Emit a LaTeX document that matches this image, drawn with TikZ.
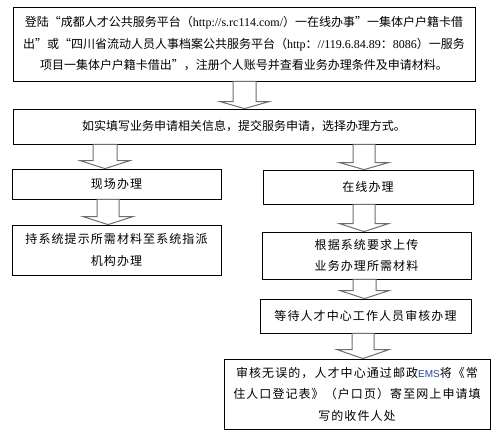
\documentclass[tikz,border=0pt]{standalone}
\usepackage{fontspec}
\setmainfont{Noto Sans CJK SC}
\newfontfamily\cjkwide[LetterSpace=9]{Noto Sans CJK SC}
\newfontfamily\lat{Liberation Serif}
\newfontfamily\ems{Liberation Sans}
\usetikzlibrary{calc}
\definecolor{arrgray}{RGB}{110,110,110}
\definecolor{emsblue}{RGB}{40,70,150}
\newcommand{\blockarrow}[6]{%
  \draw[blockarr] let \p1=(#2.south), \p2=(#3.north) in
    (#1pt-#4pt,\y1) -- (#1pt-#4pt,\y2+#6pt) -- (#1pt-#5pt,\y2+#6pt) -- (#1pt,\y2)
    -- (#1pt+#5pt,\y2+#6pt) -- (#1pt+#4pt,\y2+#6pt) -- (#1pt+#4pt,\y1) -- cycle;}
\begin{document}
\begin{tikzpicture}[x=1pt,y=-1pt,
  box/.style={draw=black,line width=0.8pt,fill=white,inner sep=0pt,align=center,
    font=\fontsize{12}{21.5}\selectfont},
  wbox/.style={box,font=\fontsize{12}{21.5}\cjkwide},
  blockarr/.style={draw=arrgray,line width=1pt,fill=white,line join=miter}]
\useasboundingbox (0,0) rectangle (504,435);
\node[box,minimum width=462pt,minimum height=74pt] (b1) at (244,44)
  {登陆“成都人才公共服务平台（{\lat http://s.rc114.com/}）一在线办事”一集体户户籍卡借\\
   出”或“四川省流动人员人事档案公共服务平台（{\lat http}：{\lat //119.6.84.89}：{\lat 8086}）一服务\\
   项目一集体户户籍卡借出”，注册个人账号并查看业务办理条件及申请材料。};
\node[box,minimum width=462pt,minimum height=35pt] (b2) at (244,126.5)
  {如实填写业务申请相关信息，提交服务申请，选择办理方式。};
\node[wbox,minimum width=209pt,minimum height=30pt] (bl1) at (116.5,184) {现场办理};
\node[wbox,minimum width=210pt,minimum height=34pt] (br1) at (368,187) {在线办理};
\node[wbox,minimum width=209pt,minimum height=50pt] (bl2) at (116.5,250)
  {持系统提示所需材料至系统指派\\机构办理};
\node[wbox,minimum width=209pt,minimum height=47pt] (br2) at (366.5,255.5)
  {根据系统要求上传\\业务办理所需材料};
\node[wbox,minimum width=211pt,minimum height=34pt] (br3) at (365.5,316)
  {等待人才中心工作人员审核办理};
\node[wbox,minimum width=266pt,minimum height=70pt] (b4) at (357,394)
  {审核无误的，人才中心通过邮政{\ems\fontsize{10}{21.5}\selectfont\color{emsblue}EMS}将《常\\
   住人口登记表》（户口页）寄至网上申请填\\写的收件人处};
\blockarrow{244.5}{b1}{b2}{11.5}{24.5}{7}
\blockarrow{105}{b2}{bl1}{12}{25}{8}
\blockarrow{364}{b2}{br1}{11}{24.5}{7}
\blockarrow{108}{bl1}{bl2}{11}{25}{8}
\blockarrow{364}{br1}{br2}{11}{24.5}{8}
\blockarrow{364.5}{br2}{br3}{11.5}{24.5}{8}
\blockarrow{363}{br3}{b4}{11}{26}{9}
\end{tikzpicture}
\end{document}
